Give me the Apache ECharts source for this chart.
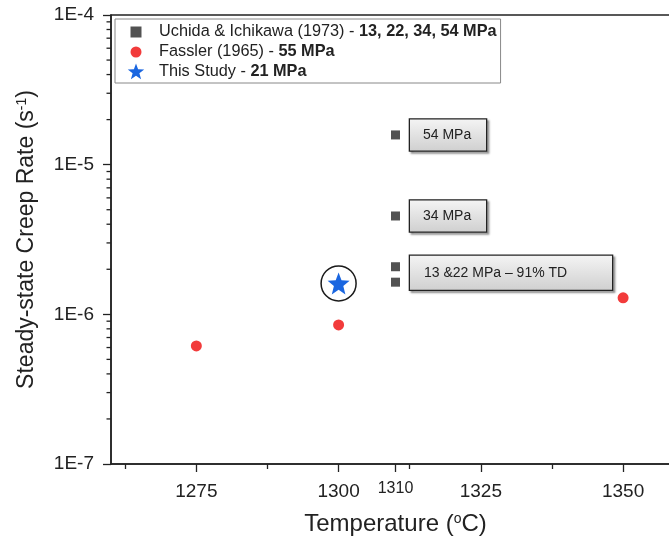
<!DOCTYPE html>
<html lang="en">
    <head>
        <meta charset="UTF-8">
        <script src="https://cdn.jsdelivr.net/npm/echarts@6/dist/echarts.min.js"></script>
        <title>Steady-state Creep Rate vs Temperature</title>
        <style>
            html, body { margin: 0; padding: 0; background: #fff; }
        </style>
    </head>
    <body>
        <div id="chart-container" style="width: 669px; height: 542px;"></div>

        <script>
            // data
            const uchidaTemps = [1310, 1310, 1310, 1310];
            const uchidaRates = [1.58e-5, 4.54e-6, 2.08e-6, 1.64e-6];
            const uchidaLabels = ['54 MPa', '34 MPa', '13 &22 MPa \u2013 91% TD', ''];

            const fasslerTemps = [1275, 1300, 1350];
            const fasslerRates = [6.15e-7, 8.5e-7, 1.29e-6];

            const studyTemps = [1300];
            const studyRates = [1.61e-6];

            const seriesNames = ['Uchida & Ichikawa (1973)', 'Fassler (1965)', 'This Study'];
            const seriesNotes = ['13, 22, 34, 54 MPa', '55 MPa', '21 MPa'];

            const xMin = 1260;
            const xMax = 1360;
            const xMajorTicks = [1275, 1300, 1310, 1325, 1350];
            const xMinorTicks = [1262.5, 1287.5, 1312.5, 1337.5];
            const yDecades = [-7, -6, -5, -4];

            const font = 'Liberation Sans, Arial, sans-serif';
            const starPath = 'path://M12,1L14.9,8.6L23,8.9L16.7,14L18.8,22L12,17.5L5.2,22L7.3,14L1,8.9L9.1,8.6Z';

            // minor log ticks: 2..9 of each decade
            const yMinorTicks = [];
            for (let d = yDecades[0]; d < yDecades[yDecades.length - 1]; d++) {
                for (let k = 2; k <= 9; k++) yMinorTicks.push(k * Math.pow(10, d));
            }

            const boxLabel = {
                show: true,
                position: 'right',
                distance: 10,
                fontFamily: font,
                fontSize: 14,
                color: '#222',
                lineHeight: 15,
                width: 51,
                padding: [8, 12, 8, 13],
                backgroundColor: {
                    type: 'linear', x: 0, y: 0, x2: 0, y2: 1,
                    colorStops: [{offset: 0, color: '#f5f5f5'}, {offset: 1, color: '#cfcfcf'}]
                },
                borderColor: '#222',
                borderWidth: 1.3,
                shadowColor: 'rgba(0,0,0,0.45)',
                shadowBlur: 2,
                shadowOffsetX: 2,
                shadowOffsetY: 2
            };

            const uchidaData = uchidaTemps.map((t, i) => {
                const item = {value: [t, uchidaRates[i]]};
                if (uchidaLabels[i]) {
                    item.label = Object.assign({}, boxLabel, {formatter: uchidaLabels[i]});
                    if (uchidaLabels[i].length > 10) {
                        item.label.width = 176;
                        item.label.padding = [9, 12, 9, 14];
                        item.label.lineHeight = 16;
                        item.label.offset = [0, 6];
                    }
                } else {
                    item.label = {show: false};
                }
                return item;
            });

            const chart = echarts.init(document.getElementById('chart-container'));
            const options = {
                backgroundColor: '#fff',
                animation: false,
                textStyle: {fontFamily: font},
                grid: {
                    left: 111, top: 15, right: -11, bottom: 78,
                    outerBoundsMode: 'none',
                    show: true, borderColor: '#222', borderWidth: 1.5,
                    backgroundColor: 'transparent'
                },
                legend: {
                    orient: 'vertical',
                    left: 115, top: 19,
                    padding: [4, 4, 2, 12],
                    itemGap: 2,
                    itemWidth: 18,
                    itemHeight: 18,
                    borderColor: '#888',
                    borderWidth: 1,
                    backgroundColor: '#fff',
                    data: [
                        {name: seriesNames[0], icon: 'path://M0,0M18,18M3.5,3.5L14.5,3.5L14.5,14.5L3.5,14.5Z'},
                        {name: seriesNames[1], icon: 'path://M0,0M18,18M9,3.5A5.5,5.5,0,1,1,9,14.5A5.5,5.5,0,1,1,9,3.5Z'},
                        {name: seriesNames[2], icon: 'path://M0,0M18,18M9,0.5L11.1,6.3L17.2,6.5L12.4,10.3L14.1,16.2L9,12.8L3.9,16.2L5.6,10.3L0.8,6.5L6.9,6.3Z'}
                    ],
                    formatter: name => '{n|' + name + ' - }{b|' + seriesNotes[seriesNames.indexOf(name)] + '}',
                    textStyle: {
                        padding: [0, 0, 0, 9],
                        rich: {
                            n: {fontFamily: font, fontSize: 16.3, color: '#222', lineHeight: 18},
                            b: {fontFamily: font, fontSize: 16.3, fontWeight: 'bold', color: '#222', lineHeight: 18}
                        }
                    }
                },
                xAxis: [
                    {
                        type: 'value',
                        min: xMin,
                        max: xMax,
                        name: '{a|Temperature (}{sup|o}{a|C)}',
                        nameLocation: 'middle',
                        nameGap: 48,
                        nameTextStyle: {
                            rich: {
                                a: {fontFamily: font, fontSize: 24, color: '#222'},
                                sup: {fontFamily: font, fontSize: 14, color: '#222', verticalAlign: 'top', lineHeight: 14}
                            }
                        },
                        axisLine: {lineStyle: {color: '#222', width: 1.5}},
                        axisTick: {customValues: xMajorTicks, length: 8, lineStyle: {color: '#222', width: 1.3}},
                        axisLabel: {
                            customValues: xMajorTicks,
                            margin: 18,
                            fontFamily: font,
                            fontSize: 19,
                            color: '#222',
                            formatter: v => v === 1310 ? '{s|1310}' : String(v),
                            rich: {s: {fontFamily: font, fontSize: 16, color: '#222', lineHeight: 14}}
                        },
                        splitLine: {show: false}
                    },
                    {
                        type: 'value',
                        min: xMin,
                        max: xMax,
                        position: 'bottom',
                        axisLine: {show: false},
                        axisTick: {customValues: xMinorTicks, length: 5, lineStyle: {color: '#222', width: 1.3}},
                        axisLabel: {show: false},
                        splitLine: {show: false}
                    }
                ],
                yAxis: {
                    type: 'log',
                    logBase: 10,
                    position: 'left',
                    min: Math.pow(10, yDecades[0]),
                    max: Math.pow(10, yDecades[yDecades.length - 1]),
                    splitNumber: 3,
                    name: '{a|Steady-state Creep Rate (s}{sup|-1}{a|)}',
                    nameLocation: 'middle',
                    nameGap: 73,
                    nameTextStyle: {
                        rich: {
                            a: {fontFamily: font, fontSize: 23, color: '#222'},
                            sup: {fontFamily: font, fontSize: 14, color: '#222', verticalAlign: 'top', lineHeight: 14}
                        }
                    },
                    axisLine: {show: true, lineStyle: {color: '#222', width: 1.5}},
                    axisTick: {show: true, length: 8, lineStyle: {color: '#222', width: 1.3}},
                    axisLabel: {
                        margin: 17,
                        fontFamily: font,
                        fontSize: 19,
                        color: '#222',
                        formatter: v => '1E' + Math.round(Math.log10(v))
                    },
                    splitLine: {show: false}
                },
                series: [
                    {
                        name: seriesNames[0],
                        type: 'scatter',
                        symbol: 'rect',
                        symbolSize: 9,
                        itemStyle: {color: '#525252', opacity: 1},
                        data: uchidaData,
                        z: 3
                    },
                    {
                        name: seriesNames[1],
                        type: 'scatter',
                        symbol: 'circle',
                        symbolSize: 11,
                        itemStyle: {color: '#f23b3b', opacity: 1},
                        data: fasslerTemps.map((t, i) => [t, fasslerRates[i]]),
                        z: 3
                    },
                    {
                        name: seriesNames[2],
                        type: 'scatter',
                        symbol: starPath,
                        symbolSize: 22,
                        itemStyle: {color: '#1a66e0', opacity: 1},
                        data: studyTemps.map((t, i) => [t, studyRates[i]]),
                        z: 4
                    },
                    {
                        // ring drawn around this study's point
                        name: 'ring',
                        type: 'scatter',
                        symbol: 'circle',
                        symbolSize: 35,
                        silent: true,
                        itemStyle: {color: 'rgba(0,0,0,0)', borderColor: '#1a1a1a', borderWidth: 1.5, opacity: 1},
                        data: studyTemps.map((t, i) => [t, studyRates[i]]),
                        z: 2
                    }
                ]
            };
            chart.setOption(options);

            // minor log ticks: positions taken from the y axis scale once it is laid out
            const axisX = chart.convertToPixel({xAxisIndex: 0}, xMin);
            const minorTickLines = yMinorTicks.map(v => {
                const y = chart.convertToPixel({yAxisIndex: 0}, v);
                return {
                    type: 'line',
                    silent: true,
                    z: 100,
                    shape: {x1: axisX - 4.5, y1: y, x2: axisX, y2: y},
                    style: {stroke: '#222', lineWidth: 1.3}
                };
            });
            chart.setOption({graphic: minorTickLines});
        </script>
    </body>
</html>
